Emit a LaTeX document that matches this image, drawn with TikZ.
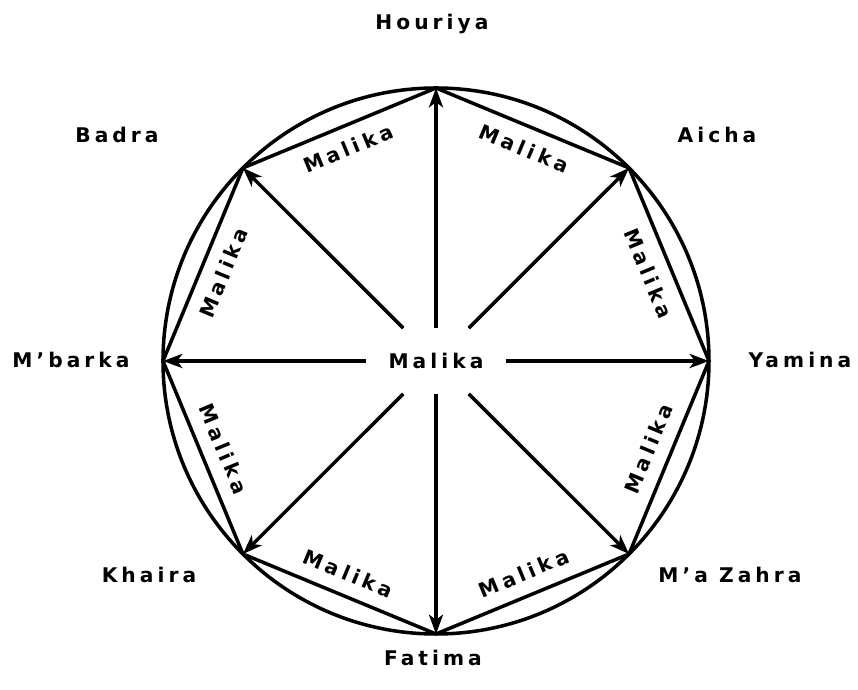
\documentclass[tikz,border=0pt]{standalone}
\usepackage{fontspec}
\usetikzlibrary{arrows.meta}
\newfontfamily\labfont{DejaVu Sans}[LetterSpace=20]
\tikzset{
  lab/.style={font=\labfont\bfseries\fontsize{11.5}{13}\selectfont},
  ray/.style={line width=2pt,-{Stealth[length=11pt,width=8pt,inset=3pt]}},
}
\begin{document}
\begin{tikzpicture}[x=1cm,y=1cm]
\useasboundingbox (-8.72,-6.58) rectangle (8.44,7.22);
\draw[line width=2pt] (0,0) circle (5.46);

\coordinate (hou) at (90:5.46);
\coordinate (aic) at (45:5.46);
\coordinate (yam) at (0:5.46);
\coordinate (maz) at (-45:5.46);
\coordinate (fat) at (-90:5.46);
\coordinate (kha) at (-135:5.46);
\coordinate (mba) at (180:5.46);
\coordinate (bad) at (135:5.46);

\node[lab,minimum width=2.8cm,minimum height=1.3cm] (mal) at (0,0) {Malika};

\node[lab] (thou) at (-0.08,6.74) {Houriya};
\node[lab] (taic) at (5.62,4.52) {Aicha};
\node[lab] (tyam) at (7.28,0.02) {Yamina};
\node[lab] (tmaz) at (5.88,-4.28) {M’a Zahra};
\node[lab] (tfat) at (-0.06,-5.94) {Fatima};
\node[lab] (tkha) at (-5.74,-4.28) {Khaira};
\node[lab] (tmba) at (-7.30,0.02) {M’barka};
\node[lab] (tbad) at (-6.38,4.52) {Badra};

\draw[ray] (mal) -- (hou);
\draw[ray] (mal) -- (aic);
\draw[ray] (mal) -- (yam);
\draw[ray] (mal) -- (maz);
\draw[ray] (mal) -- (fat);
\draw[ray] (mal) -- (kha);
\draw[ray] (mal) -- (mba);
\draw[ray] (mal) -- (bad);

% upper edges
\draw[line width=2pt] (mba) -- node[lab,midway,sloped,below=4pt] {Malika} (bad);
\draw[line width=2pt] (bad) -- node[lab,midway,sloped,below=4pt] {Malika} (hou);
\draw[line width=2pt] (hou) -- node[lab,midway,sloped,below=4pt] {Malika} (aic);
\draw[line width=2pt] (aic) -- node[lab,midway,sloped,below=4pt] {Malika} (yam);
% lower edges
\draw[line width=2pt] (mba) -- node[lab,midway,sloped,above=4pt] {Malika} (kha);
\draw[line width=2pt] (kha) -- node[lab,midway,sloped,above=4pt] {Malika} (fat);
\draw[line width=2pt] (fat) -- node[lab,midway,sloped,above=4pt] {Malika} (maz);
\draw[line width=2pt] (maz) -- node[lab,midway,sloped,above=4pt] {Malika} (yam);
\end{tikzpicture}
\end{document}
